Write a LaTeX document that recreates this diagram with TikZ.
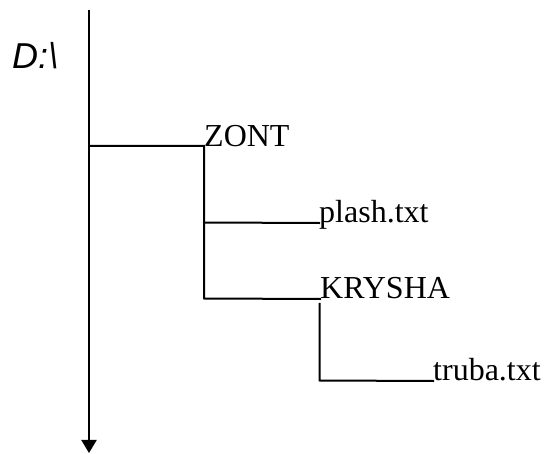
\documentclass[tikz,border=0pt]{standalone}
\usepackage{fontspec}
\setmainfont{Liberation Serif}
\newfontfamily\drivefont{Liberation Sans}
\usetikzlibrary{arrows.meta}
\tikzset{
  lbl/.style={anchor=base west, inner sep=0pt, font=\fontsize{32}{32}\selectfont},
  conn/.style={line width=2pt, line cap=rect},
}
\begin{document}
\begin{tikzpicture}[x=1pt,y=-1pt]
\useasboundingbox (0,0) rectangle (544,454);
\node[anchor=base west, inner sep=0pt, font=\drivefont\itshape\fontsize{36}{36}\selectfont] (drive) at (12,69) {D:\textbackslash};
\coordinate (top) at (89,10);
\coordinate (bottom) at (89,453);
\node[lbl] (zont) at (204,147) {ZONT};
\node[lbl] (plash) at (319,223) {plash.txt};
\node[lbl] (krysha) at (320,299) {KRYSHA};
\node[lbl] (truba) at (433,381) {truba.txt};
\coordinate (j0) at (89,146);
\coordinate (z0) at (204,146);
\coordinate (z1) at (204,222.5);
\coordinate (z2) at (204,298.5);
\coordinate (k0) at (319.5,304);
\coordinate (k1) at (319.5,380.5);
\draw[line width=2pt, -{Triangle[width=15pt,length=13pt]}] (top) -- (bottom);
\draw[conn] (j0) -- (z0) -- (z2) -- (krysha.base west);
\draw[conn] (z1) -- (plash.base west);
\draw[conn] (k0) -- (k1) -- (truba.base west);
\end{tikzpicture}
\end{document}
